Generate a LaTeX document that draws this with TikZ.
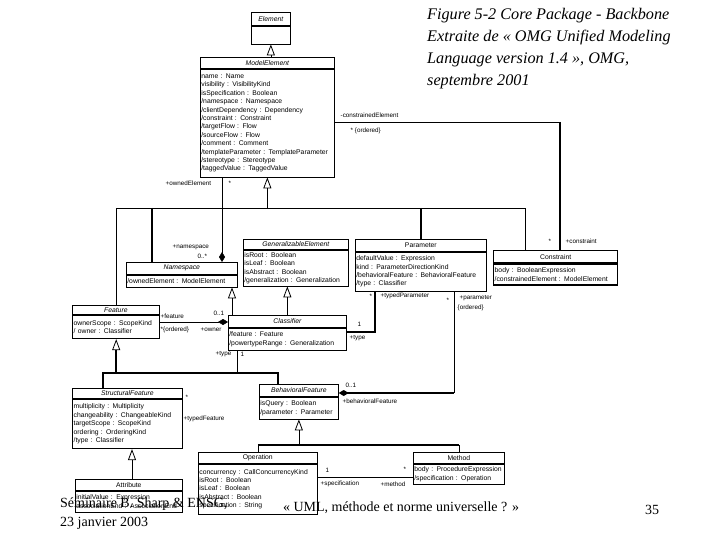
\documentclass[tikz,border=0pt]{standalone}
\usepackage{fontspec}
\setmainfont{Liberation Serif}
\setsansfont{Liberation Sans}
\usetikzlibrary{arrows.meta,positioning}

\begin{document}
\begin{tikzpicture}[x=1pt,y=-1pt,
ln/.style={line width=0.6pt},
hv/.style={line width=1.6pt},
gen/.style={-{Triangle[open,length=11pt,width=8pt,line width=0.8pt]}},
comp/.style={{Diamond[length=10pt,width=6pt]}-},
hd/.style={draw,line width=0.7pt,anchor=north west,inner sep=0pt,font=\sffamily\fontsize{6.8}{8}\selectfont},
ab/.style={hd,font=\sffamily\itshape\fontsize{6.8}{8}\selectfont},
att/.style={draw,line width=0.7pt,anchor=north west,inner xsep=1pt,inner ysep=0pt,align=left,font=\sffamily\fontsize{6.8}{8.4}\selectfont},
lab/.style={inner sep=0.5pt,anchor=west,font=\sffamily\fontsize{6.3}{7}\selectfont}
]
\useasboundingbox (0,0) rectangle (720,540);

% classes
\node[ab,minimum width=39pt,minimum height=13pt] (el) at (251,12) {Element};
\node[att,text width=37pt,minimum height=18pt] (el-a) at (el.south west) {};

\node[ab,minimum width=134pt,minimum height=11pt] (me) at (200,57) {ModelElement};
\node[att,text width=132pt,minimum height=108pt] (me-a) at (me.south west) {name : Name\\visibility : VisibilityKind\\isSpecification : Boolean\\/namespace : Namespace\\/clientDependency : Dependency\\/constraint : Constraint\\/targetFlow : Flow\\/sourceFlow : Flow\\/comment : Comment\\/templateParameter : TemplateParameter\\/stereotype : Stereotype\\/taggedValue : TaggedValue};

\node[ab,minimum width=111pt,minimum height=12pt] (ns) at (126,262) {Namespace};
\node[att,text width=109pt,minimum height=12pt] (ns-a) at (ns.south west) {/ownedElement : ModelElement};

\node[ab,minimum width=105pt,minimum height=10pt] (ge) at (243,239) {GeneralizableElement};
\node[att,text width=103pt,minimum height=36pt] (ge-a) at (ge.south west) {isRoot : Boolean\\isLeaf : Boolean\\isAbstract : Boolean\\/generalization : Generalization};

\node[hd,minimum width=131pt,minimum height=12pt] (pa) at (355,239) {Parameter};
\node[att,text width=129pt,minimum height=39pt] (pa-a) at (pa.south west) {defaultValue : Expression\\kind : ParameterDirectionKind\\/behavioralFeature : BehavioralFeature\\/type : Classifier};

\node[hd,line width=1.4pt,minimum width=124pt,minimum height=12pt] (co) at (493,250) {Constraint};
\node[att,line width=1.4pt,text width=122pt,minimum height=21pt] (co-a) at (co.south west) {body : BooleanExpression\\/constrainedElement : ModelElement};

\node[ab,minimum width=87pt,minimum height=9pt] (fe) at (72,305) {Feature};
\node[att,line width=1.4pt,text width=85pt,minimum height=23pt] (fe-a) at (fe.south west) {ownerScope : ScopeKind\\/ owner : Classifier};

\node[ab,minimum width=118pt,minimum height=12pt] (cl) at (228,315) {Classifier};
\node[att,text width=116pt,minimum height=22pt] (cl-a) at (cl.south west) {/feature : Feature\\/powertypeRange : Generalization};

\node[ab,minimum width=110pt,minimum height=10pt] (sf) at (72,388) {StructuralFeature};
\node[att,line width=1.4pt,text width=108pt,minimum height=49pt] (sf-a) at (sf.south west) {multiplicity : Multiplicity\\changeability : ChangeableKind\\targetScope : ScopeKind\\ordering : OrderingKind\\/type : Classifier};

\node[ab,minimum width=79pt,minimum height=12pt] (bf) at (259,384) {BehavioralFeature};
\node[att,text width=77pt,minimum height=22pt] (bf-a) at (bf.south west) {isQuery : Boolean\\/parameter : Parameter};

\node[hd,minimum width=107pt,minimum height=11pt] (at) at (75,479) {Attribute};
\node[att,text width=105pt,minimum height=21pt] (at-a) at (at.south west) {initialValue : Expression\\associationEnd : AssociationEnd};

\node[hd,minimum width=119pt,minimum height=11pt] (op) at (198,452) {Operation};
\node[att,text width=117pt,minimum height=50pt] (op-a) at (op.south west) {concurrency : CallConcurrencyKind\\isRoot : Boolean\\isLeaf : Boolean\\isAbstract : Boolean\\specification : String};

\node[hd,minimum width=91pt,minimum height=11pt] (mt) at (413,452) {Method};
\node[att,text width=89pt,minimum height=20pt] (mt-a) at (mt.south west) {body : ProcedureExpression\\/specification : Operation};

% generalizations
\draw[ln,gen] (el-a.south |- me.north) -- (el-a.south);
\coordinate (t-me) at (me-a.south |- 0,208);
\coordinate (t-ns) at (152,208);
\coordinate (t-co) at (525,208);
\draw[hv,gen] (t-me) -- (me-a.south);
\draw[ln] (fe.north) |- (t-co) -- (t-co |- co.north);
\draw[hv] (t-ns) -- (t-ns |- ns.north);
\draw[hv] (pa.north |- t-me) -- (pa.north);

\coordinate (g-ns) at (232,300);
\draw[ln,gen] (g-ns |- cl.north) -- (g-ns |- ns-a.south);
\draw[ln,gen] (cl.north) -- (cl.north |- ge-a.south);

\coordinate (t-fe) at (fe-a.south |- 0,373);
\coordinate (t-sf) at (103,373);
\coordinate (t-bf) at (278,373);
\draw[hv,gen] (t-fe) -- (fe-a.south);
\draw[hv] (t-sf |- sf.north) -- (t-sf) -- (t-bf) -- (t-bf |- bf.north);

\coordinate (g-at) at (132,460);
\draw[ln,gen] (g-at |- at.north) -- (g-at |- sf-a.south);

\coordinate (t-op) at (bf-a.south |- 0,445);
\draw[ln,gen] (t-op) -- (bf-a.south);
\draw[ln] (op.north) -- (op.north |- t-op);
\draw[ln] (mt.north) -- (mt.north |- t-op);
\draw[hv] (op.north |- t-op) -- (mt.north |- t-op);

% associations
\coordinate (own) at (222,208);
\draw[ln,comp] (own |- ns.north) -- (own |- me-a.south);

\coordinate (c-me) at (560,122);
\draw[ln] (me-a.east |- c-me) -- (c-me);
\draw[hv] (c-me) -- (c-me |- co.north);

\coordinate (f-c) at (0,322);
\draw[ln,comp] (f-c -| cl.west) -- (f-c -| fe-a.east);

\coordinate (p-c) at (375,332);
\draw[hv] (p-c |- pa-a.south) -- (p-c) -- (p-c -| cl-a.east);

\coordinate (p-b) at (454,393);
\draw[ln] (p-b |- pa-a.south) -- (p-b);
\draw[hv,comp] (p-b -| bf-a.east) -- (p-b);

\coordinate (t-ty) at (237,373);
\draw[ln] (t-ty |- cl-a.south) -- (t-ty);

\coordinate (o-m) at (0,477);
\draw[ln] (o-m -| op-a.east) -- (o-m -| mt-a.west);

% role names
\node[lab] (l1) at (165,183) {+ownedElement};
\node[lab] (l2) at (228,183) {*};
\node[lab] (l3) at (172,247) {+namespace};
\node[lab] (l4) at (197,256) {0..*};
\node[lab] (l5) at (340,115) {-constrainedElement};
\node[lab] (l6) at (350,131) {* \{ordered\}};
\node[lab] (l7) at (548,241) {*};
\node[lab] (l8) at (565,241) {+constraint};
\node[lab] (l9) at (160,316) {+feature};
\node[lab] (l10) at (160,330) {*\{ordered\}};
\node[lab] (l11) at (213,313) {0..1};
\node[lab] (l12) at (200,330) {+owner};
\node[lab] (l13) at (369,296) {*};
\node[lab] (l14) at (380,296) {+typedParameter};
\node[lab] (l15) at (446,300) {*};
\node[lab] (l16) at (459,298) {+parameter};
\node[lab] (l17) at (457,308) {\{ordered\}};
\node[lab] (l18) at (357,324) {1};
\node[lab] (l19) at (349,338) {+type};
\node[lab] (l20) at (215,354) {+type};
\node[lab] (l21) at (240,354) {1};
\node[lab] (l22) at (185,397) {*};
\node[lab] (l23) at (183,419) {+typedFeature};
\node[lab] (l24) at (345,385) {0..1};
\node[lab] (l25) at (342,401) {+behavioralFeature};
\node[lab] (l26) at (325,470) {1};
\node[lab] (l27) at (320,484) {+specification};
\node[lab] (l28) at (403,469) {*};
\node[lab] (l29) at (380,484) {+method};

% slide texts
\node[anchor=north west,align=left,inner sep=0pt,font=\itshape\fontsize{16.2}{22}\selectfont] (cap) at (427,8) {Figure 5-2 Core Package - Backbone\\Extraite de « OMG Unified Modeling\\Language version 1.4 », OMG,\\septembre 2001};
\node[anchor=west,align=left,inner sep=0pt,font=\fontsize{14}{19}\selectfont] (src) at (60,514) {Séminaire B. Sharp \& ENSG,\\23 janvier 2003};
\node[inner sep=0pt,font=\fontsize{14}{16}\selectfont] (ttl) at (401,508) {« UML, méthode et norme universelle ? »};
\node[inner sep=0pt,font=\fontsize{14}{16}\selectfont] (pg) at (652,510) {35};
\end{tikzpicture}
\end{document}
